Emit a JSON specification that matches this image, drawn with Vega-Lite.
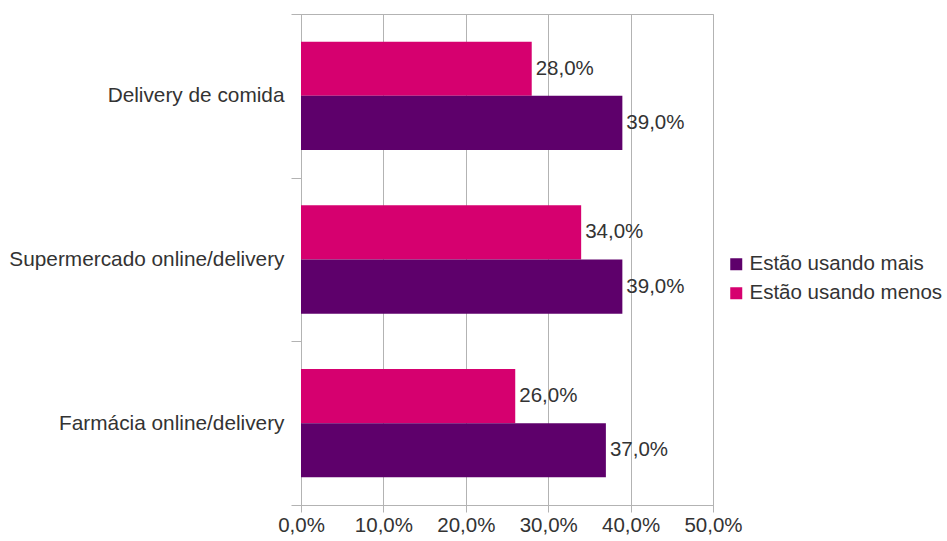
{
  "$schema": "https://vega.github.io/schema/vega-lite/v6.json",
  "autosize": {"type": "none"},
  "width": 412,
  "height": 491,
  "padding": {"left": 301, "top": 14, "right": 234, "bottom": 36},
  "background": "white",
  "config": {
    "locale": {
      "number": {"decimal": ",", "thousands": ".", "grouping": [3], "currency": ["R$", ""]}
    },
    "font": "Liberation Sans",
    "view": {"stroke": "#b3b3b3", "strokeWidth": 1}
  },
  "data": {
    "values": [
      {"categoria": "Delivery de comida", "serie": "Estão usando menos", "valor": 0.28},
      {"categoria": "Delivery de comida", "serie": "Estão usando mais", "valor": 0.39},
      {"categoria": "Supermercado online/delivery", "serie": "Estão usando menos", "valor": 0.34},
      {"categoria": "Supermercado online/delivery", "serie": "Estão usando mais", "valor": 0.39},
      {"categoria": "Farmácia online/delivery", "serie": "Estão usando menos", "valor": 0.26},
      {"categoria": "Farmácia online/delivery", "serie": "Estão usando mais", "valor": 0.37}
    ]
  },
  "encoding": {
    "y": {
      "field": "categoria",
      "type": "nominal",
      "sort": ["Delivery de comida", "Supermercado online/delivery", "Farmácia online/delivery"],
      "scale": {"paddingInner": 0, "paddingOuter": 0},
      "axis": {
        "title": null,
        "tickBand": "extent",
        "tickSize": 10,
        "tickColor": "#b3b3b3",
        "domainColor": "#b3b3b3",
        "labelFontSize": 20.8,
        "labelColor": "#333333",
        "labelPadding": 7,
        "labelLimit": 400,
        "grid": false
      }
    },
    "yOffset": {
      "field": "serie",
      "type": "nominal",
      "scale": {"domain": ["Estão usando menos", "Estão usando mais"], "paddingInner": 0, "paddingOuter": 0.51}
    },
    "x": {
      "field": "valor",
      "type": "quantitative",
      "scale": {"domain": [0, 0.5]},
      "axis": {
        "title": null,
        "format": ".1%",
        "values": [0, 0.1, 0.2, 0.3, 0.4, 0.5],
        "tickSize": 7,
        "tickColor": "#b3b3b3",
        "domainColor": "#b3b3b3",
        "gridColor": "#b3b3b3",
        "labelFontSize": 20.5,
        "labelColor": "#333333",
        "labelPadding": 3,
        "labelFlush": false
      }
    }
  },
  "layer": [
    {
      "mark": {"type": "bar"},
      "encoding": {
        "color": {
          "field": "serie",
          "type": "nominal",
          "scale": {"domain": ["Estão usando mais", "Estão usando menos"], "range": ["#5e006b", "#d6006f"]},
          "legend": {
            "title": null,
            "orient": "none",
            "legendX": 425,
            "legendY": 240,
            "symbolType": "square",
            "symbolSize": 144,
            "symbolStrokeWidth": 0,
            "labelFontSize": 20.5,
            "labelColor": "#333333",
            "rowPadding": 8,
            "labelOffset": 3,
            "labelLimit": 300
          }
        }
      }
    },
    {
      "mark": {"type": "text", "align": "left", "baseline": "middle", "dx": 4, "fontSize": 20.5, "color": "#333333"},
      "encoding": {
        "text": {"field": "valor", "type": "quantitative", "format": ".1%"}
      }
    }
  ]
}
